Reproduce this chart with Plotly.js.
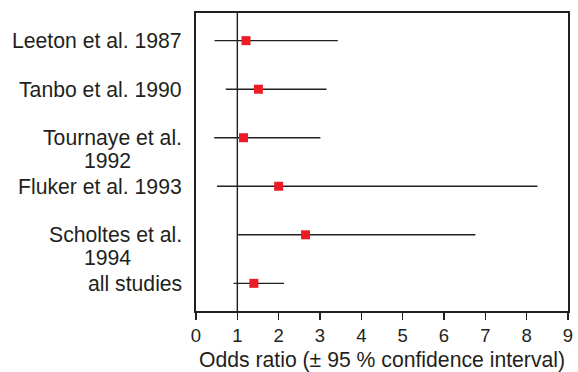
<!DOCTYPE html>
<html>
<head>
<meta charset="utf-8">
<script src="https://cdn.plot.ly/plotly-3.0.1.min.js"></script>
<style>html,body{margin:0;padding:0;background:#fff;}#chart{width:578px;height:372px;}</style>
</head>
<body>
<div id="chart"></div>
<script>
const studies = ["Leeton et al. 1987", "Tanbo et al. 1990", "Tournaye et al.<br>1992", "Fluker et al. 1993", "Scholtes et al.<br>1994", "all studies"];
const oddsRatio = [1.21, 1.51, 1.15, 2.00, 2.65, 1.40];
const ciLow = [0.45, 0.72, 0.44, 0.51, 1.02, 0.91];
const ciHigh = [3.43, 3.16, 3.01, 8.26, 6.76, 2.13];
const xTicks = [0, 1, 2, 3, 4, 5, 6, 7, 8, 9];
const refLine = 1;

const ink = '#231f20';
const rows = studies.map((_, i) => i);

const trace = {
  type: 'scatter', mode: 'markers',
  x: oddsRatio, y: rows,
  marker: {symbol: 'square', size: 9, color: '#ed1c24'},
  error_x: {
    type: 'data', symmetric: false,
    array: ciHigh.map((h, i) => h - oddsRatio[i]),
    arrayminus: ciLow.map((l, i) => oddsRatio[i] - l),
    width: 0, thickness: 1.4, color: ink
  },
  hoverinfo: 'skip', showlegend: false
};

const lineGap = 23;
const annotations = [];
studies.forEach((label, i) => {
  const parts = label.split('<br>');
  parts.forEach((p, j) => {
    annotations.push({
      xref: 'paper', yref: 'y', x: 0, y: i,
      xanchor: parts.length > 1 && j > 0 ? 'center' : 'right',
      yanchor: 'middle',
      xshift: parts.length > 1 && j > 0 ? -89 : -12,
      yshift: -j * lineGap,
      text: p, showarrow: false,
      font: {family: 'Liberation Sans, Arial, sans-serif', size: 21.2, color: ink}
    });
  });
});

const layout = {
  width: 578, height: 372,
  margin: {l: 196, r: 10, t: 13, b: 61},
  paper_bgcolor: '#fff', plot_bgcolor: '#fff',
  font: {family: 'Liberation Sans, Arial, sans-serif', color: ink},
  xaxis: {
    range: [0, 9], tickvals: xTicks, ticktext: xTicks.map(String),
    ticks: 'outside', ticklen: 7, tickwidth: 1.4, tickcolor: ink,
    showgrid: false, zeroline: false,
    showline: true, linecolor: ink, linewidth: 2, mirror: true,
    tickfont: {size: 18.5, color: ink},
    title: {text: 'Odds ratio (± 95 % confidence interval)', font: {size: 21.2, color: ink}, standoff: 7}
  },
  yaxis: {
    range: [5.57, -0.57], showticklabels: false, ticks: '',
    showgrid: false, zeroline: false,
    showline: true, linecolor: ink, linewidth: 2, mirror: true
  },
  shapes: [{type: 'line', xref: 'x', yref: 'paper', x0: refLine, x1: refLine, y0: 0, y1: 1,
            line: {color: ink, width: 1.4}, layer: 'below'}],
  annotations: annotations
};

Plotly.newPlot('chart', [trace], layout, {displayModeBar: false, staticPlot: true});
</script>
</body>
</html>
